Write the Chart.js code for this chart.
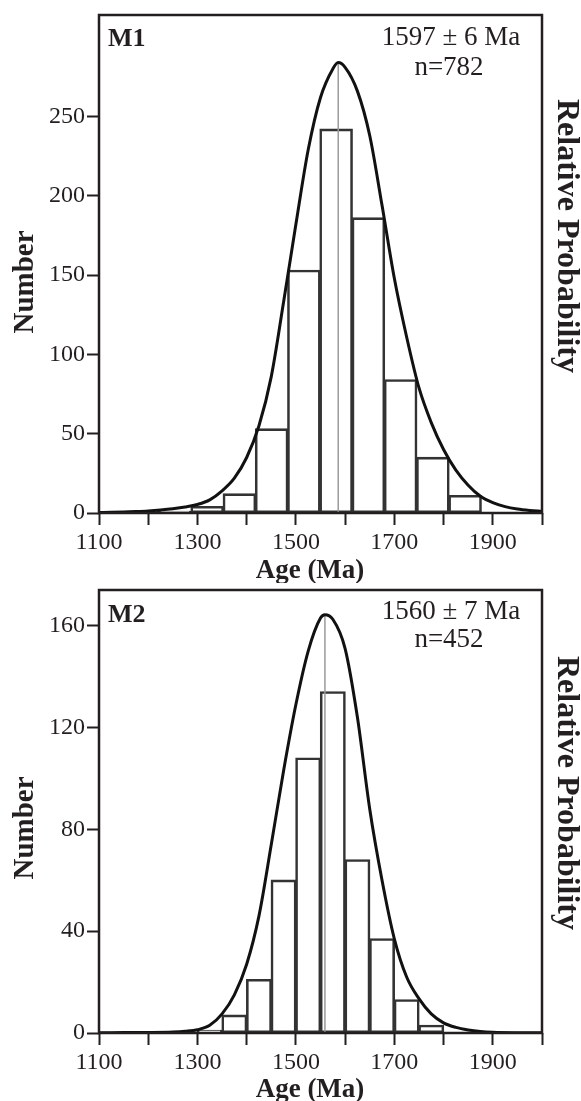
<!DOCTYPE html>
<html>
<head>
<meta charset="utf-8">
<script src="https://cdn.jsdelivr.net/npm/chart.js@4.4.1/dist/chart.umd.min.js"></script>
<style>
  html, body { margin: 0; padding: 0; background: #fff; }
  #wrap { position: relative; width: 581px; height: 1101px; }
  canvas { position: absolute; left: 0; }
  #chart-m1 { top: 0; }
  #chart-m2 { top: 583px; }
</style>
</head>
<body>
<div id="wrap">
  <canvas id="chart-m1" width="581" height="583"></canvas>
  <canvas id="chart-m2" width="581" height="518"></canvas>
</div>
<script>
// shared age axis
var ageTicks = [1100, 1200, 1300, 1400, 1500, 1600, 1700, 1800, 1900, 2000];
var ageTickLabels = [1100, 1300, 1500, 1700, 1900];

// M1 histogram (left bin edges, counts) and probability curve
var m1BinStart = [1156, 1221.5, 1287, 1352.5, 1418, 1483.5, 1549, 1614.5, 1680, 1745.5, 1811];
var m1BinWidth = 65.5;
var m1Counts = [1, 1, 4, 12, 53, 153, 242, 186, 84, 35, 11];
var m1CurveAge = [1100, 1125, 1150, 1175, 1200, 1225, 1250, 1275, 1300, 1325, 1350, 1375, 1400, 1425, 1450, 1475, 1500, 1525, 1550, 1575, 1586, 1600, 1625, 1650, 1675, 1700, 1725, 1750, 1775, 1800, 1825, 1850, 1875, 1900, 1925, 1950, 1975, 2000];
var m1CurveValue = [0.3, 0.4, 0.6, 0.9, 1.3, 1.9, 2.7, 3.8, 5.4, 8.3, 14, 22, 35, 55, 86, 133, 182, 229, 262, 280, 284, 281, 266, 238, 194, 148, 111, 79, 57, 40, 27, 17.5, 10.5, 6.5, 4, 2.5, 1.6, 1];
var m1PeakAge = 1586;
var m1PeakValue = 284;
var m1YTicks = [0, 50, 100, 150, 200, 250];
var m1YMax = 314;

// M2
var m2BinStart = [1300, 1350, 1400, 1450, 1500, 1550, 1600, 1650, 1700, 1750];
var m2BinWidth = 50;
var m2Counts = [1, 7, 21, 60, 108, 134, 68, 37, 13, 3];
var m2CurveAge = [1100, 1150, 1200, 1250, 1275, 1300, 1325, 1350, 1375, 1400, 1425, 1450, 1475, 1500, 1525, 1550, 1559, 1575, 1600, 1625, 1650, 1675, 1700, 1725, 1750, 1775, 1800, 1825, 1850, 1875, 1900, 1950, 2000];
var m2CurveValue = [0.1, 0.15, 0.2, 0.4, 0.7, 1.3, 3, 7.5, 15, 27, 46, 74, 103, 129, 150, 163, 164.3, 162.5, 151, 124, 88, 60, 37, 22, 13.5, 7.5, 4, 2.2, 1.2, 0.6, 0.3, 0.1, 0.05];
var m2PeakAge = 1559;
var m2PeakValue = 164.3;
var m2YTicks = [0, 40, 80, 120, 160];
var m2YMax = 174;

var INK = '#231f20';
var SERIF = '"Liberation Serif", "Times New Roman", serif';

Chart.defaults.font.family = SERIF;
Chart.defaults.color = INK;

// frame + panel texts
var panelDecor = {
  id: 'panelDecor',
  afterDatasetsDraw: function (chart, args, o) {
    var ctx = chart.ctx;
    var a = chart.chartArea;
    ctx.save();
    ctx.strokeStyle = INK;
    ctx.lineWidth = 2.5;
    ctx.strokeRect(a.left, a.top, a.right - a.left, a.bottom - a.top);

    ctx.fillStyle = INK;
    ctx.textBaseline = 'middle';
    ctx.textAlign = 'left';
    ctx.font = 'bold 26px ' + SERIF;
    ctx.fillText(o.name, a.left + 9, a.top + o.nameDy);

    ctx.textAlign = 'center';
    ctx.font = '27px ' + SERIF;
    ctx.fillText(o.age, 451, a.top + o.ageDy);
    ctx.fillText(o.n, 449, a.top + o.nDy);

    ctx.font = 'bold 27px ' + SERIF;
    ctx.fillText('Age (Ma)', 310, o.ageTitleY);

    ctx.save();
    ctx.translate(26, o.numberY);
    ctx.rotate(-Math.PI / 2);
    ctx.font = 'bold 29px ' + SERIF;
    ctx.fillText('Number', 0, 0);
    ctx.restore();

    ctx.save();
    ctx.translate(566, o.probY);
    ctx.rotate(Math.PI / 2);
    ctx.font = 'bold 32px ' + SERIF;
    ctx.fillText('Relative Probability', 0, 0);
    ctx.restore();

    ctx.restore();
  }
};

function makePanel(canvasId, p) {
  var bars = p.binStart.map(function (s, i) {
    return { x: s + p.binWidth / 2, y: p.counts[i] };
  });
  var curve = p.curveAge.map(function (x, i) {
    return { x: x, y: p.curveValue[i] };
  });

  return new Chart(document.getElementById(canvasId), {
    type: 'bar',
    data: {
      datasets: [
        {
          type: 'line',
          data: curve,
          borderColor: '#111',
          borderWidth: 3,
          pointRadius: 0,
          cubicInterpolationMode: 'monotone',
          fill: false,
          order: 0
        },
        {
          type: 'line',
          data: [{ x: p.peakAge, y: 0 }, { x: p.peakAge, y: p.peakValue }],
          borderColor: '#9a9a9a',
          borderWidth: 1.5,
          pointRadius: 0,
          fill: false,
          order: 1
        },
        {
          type: 'bar',
          data: bars,
          backgroundColor: 'rgba(0,0,0,0)',
          borderColor: '#333',
          borderWidth: 1.3,
          borderSkipped: false,
          inflateAmount: 0.65,
          barPercentage: 1,
          categoryPercentage: 1,
          order: 2
        }
      ]
    },
    options: {
      responsive: false,
      animation: false,
      layout: { padding: { top: p.padTop, right: 39, left: 0, bottom: 0 } },
      plugins: {
        legend: { display: false },
        tooltip: { enabled: false },
        panelDecor: p.decor
      },
      scales: {
        x: {
          type: 'linear',
          min: 1100,
          max: 2000,
          offset: false,
          afterBuildTicks: function (s) {
            s.ticks = ageTicks.map(function (v) { return { value: v }; });
          },
          afterFit: function (s) { s.height = p.xAxisHeight; },
          ticks: {
            autoSkip: false,
            maxRotation: 0,
            padding: 3,
            color: INK,
            font: { size: 24 },
            callback: function (v) {
              return ageTickLabels.indexOf(v) >= 0 ? String(v) : '';
            }
          },
          grid: {
            display: true,
            offset: false,
            drawOnChartArea: false,
            drawTicks: true,
            tickLength: 12,
            tickColor: INK,
            tickWidth: 2
          },
          border: { display: false }
        },
        y: {
          min: 0,
          max: p.yMax,
          afterBuildTicks: function (s) {
            s.ticks = p.yTicks.map(function (v) { return { value: v }; });
          },
          afterFit: function (s) {
            s.width = 99;
            s.paddingTop = 0;
            s.paddingBottom = 0;
          },
          ticks: {
            padding: 2,
            color: INK,
            font: { size: 24 }
          },
          grid: {
            display: true,
            drawOnChartArea: false,
            drawTicks: true,
            tickLength: 12,
            tickColor: INK,
            tickWidth: 2
          },
          border: { display: false }
        }
      }
    },
    plugins: [panelDecor]
  });
}

makePanel('chart-m1', {
  binStart: m1BinStart, binWidth: m1BinWidth, counts: m1Counts,
  curveAge: m1CurveAge, curveValue: m1CurveValue,
  peakAge: m1PeakAge, peakValue: m1PeakValue,
  yTicks: m1YTicks, yMax: m1YMax,
  padTop: 15, xAxisHeight: 70,
  decor: {
    name: 'M1', age: '1597 \u00b1 6 Ma', n: 'n=782',
    nameDy: 24, ageDy: 23, nDy: 53,
    ageTitleY: 571, numberY: 282, probY: 236
  }
});

makePanel('chart-m2', {
  binStart: m2BinStart, binWidth: m2BinWidth, counts: m2Counts,
  curveAge: m2CurveAge, curveValue: m2CurveValue,
  peakAge: m2PeakAge, peakValue: m2PeakValue,
  yTicks: m2YTicks, yMax: m2YMax,
  padTop: 7, xAxisHeight: 68,
  decor: {
    name: 'M2', age: '1560 \u00b1 7 Ma', n: 'n=452',
    nameDy: 25, ageDy: 22, nDy: 50,
    ageTitleY: 507, numberY: 245, probY: 210
  }
});
</script>
</body>
</html>
